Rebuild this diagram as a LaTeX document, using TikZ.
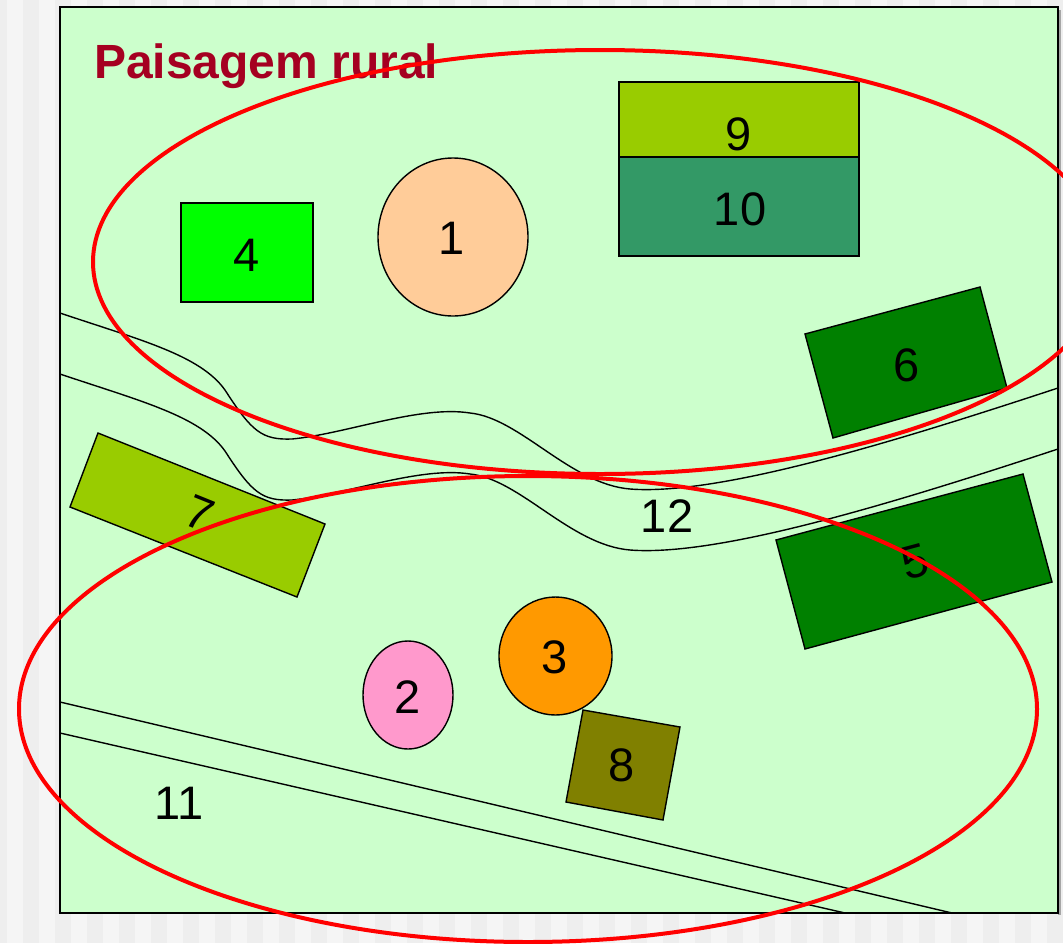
\documentclass[tikz,border=0pt]{standalone}
\usepackage{fontspec}
\setmainfont{Liberation Sans}
\definecolor{bgA}{HTML}{EEEEEE}
\definecolor{bgB}{HTML}{F5F5F5}
\definecolor{field}{HTML}{CCFFCC}
\definecolor{c4}{HTML}{00FF00}
\definecolor{c1}{HTML}{FFCC99}
\definecolor{c9}{HTML}{99CC00}
\definecolor{c10}{HTML}{339966}
\definecolor{cdark}{HTML}{008000}
\definecolor{c3}{HTML}{FF9900}
\definecolor{c2}{HTML}{FF99CC}
\definecolor{c8}{HTML}{808000}
\definecolor{titlec}{HTML}{A50021}
\begin{document}
\begin{tikzpicture}[x=1pt,y=-1pt,
  plot/.style={draw=black, line width=1.4pt},
  road/.style={draw=black, line width=1.4pt},
  zone/.style={draw=red, line width=4pt},
  lbl/.style={inner sep=0pt, font=\fontsize{47}{56}\selectfont},
  ttl/.style={inner sep=0pt, anchor=base west, text=titlec, font=\fontsize{48}{58}\selectfont\bfseries}]
\useasboundingbox (0,0) rectangle (1063,943);
% page background stripes
\fill[bgA] (0,0) rectangle (1063,943);
\foreach \i in {0,...,32} \fill[bgB] ({7+32*\i},0) rectangle ({23+32*\i},943);
% shadow and field
\fill[black!35] (1058,10) rectangle (1061,915);
\fill[field] (60,7) rectangle (1058,913);
% roads
\begin{scope}
\clip (60,7) rectangle (1058,913);
\draw[road] (60,313) .. controls (140,340) and (200,355) .. (225,390)
  .. controls (252,432) and (262,440) .. (292,439)
  .. controls (345,434) and (420,405) .. (470,413)
  .. controls (520,418) and (570,484) .. (630,489)
  .. controls (720,496) and (900,440) .. (1058,388);
\draw[road] (60,374) .. controls (140,401) and (200,416) .. (225,451)
  .. controls (252,493) and (262,501) .. (292,500)
  .. controls (345,495) and (420,466) .. (470,474)
  .. controls (520,479) and (570,545) .. (630,550)
  .. controls (720,557) and (900,501) .. (1058,449);
\draw[road] (60,702) -- (952,913);
\draw[road] (60,733) -- (845,913);
\end{scope}
% plots
\draw[plot, fill=c4] (181,203) rectangle (313,302);
\draw[plot, fill=c1] (453,237) ellipse [x radius=75, y radius=79];
\draw[plot, fill=c9] (619,82) rectangle (859,180);
\draw[plot, fill=c10] (619,157) rectangle (859,256);
\draw[plot, fill=cdark] (805,334) -- (980,287) -- (1007,388) -- (833,438) -- cycle;
\draw[plot, fill=c9] (98,433) -- (325,524) -- (297,597) -- (70,507) -- cycle;
\draw[plot, fill=cdark] (776,540) -- (1023,474) -- (1052,582) -- (805,649) -- cycle;
\draw[plot, fill=c3] (555.5,656) ellipse [x radius=56.5, y radius=59];
\draw[plot, fill=c2] (408,695) ellipse [x radius=45, y radius=54];
\draw[plot, fill=c8] (583,710) -- (680,727) -- (663,820) -- (566,802) -- cycle;
% labels
\node[lbl] (n4) at (247,255) {4};
\node[lbl] (n1) at (452,238) {1};
\node[lbl] (n9) at (739,134) {9};
\node[lbl] (n10) at (740,209) {10};
\node[lbl] (n6) at (907,365) {6};
\node[lbl, rotate=15] (n5) at (915,562) {5};
\node[lbl, rotate=-22] (n7) at (200,513) {7};
\node[lbl] (n12) at (667,516) {12};
\node[lbl] (n3) at (555,657) {3};
\node[lbl] (n2) at (408,697) {2};
\node[lbl] (n8) at (622,765) {8};
\node[lbl] (n11) at (179,803) {11};
% field border
\draw[black, line width=1.5pt] (60,7) rectangle (1058,913);
% title
\node[ttl] (title) at (94,78) {Paisagem rural};
% zones
\draw[zone] (600,262) ellipse [x radius=507, y radius=212];
\draw[zone] (528,709) ellipse [x radius=509, y radius=233];
\end{tikzpicture}
\end{document}
